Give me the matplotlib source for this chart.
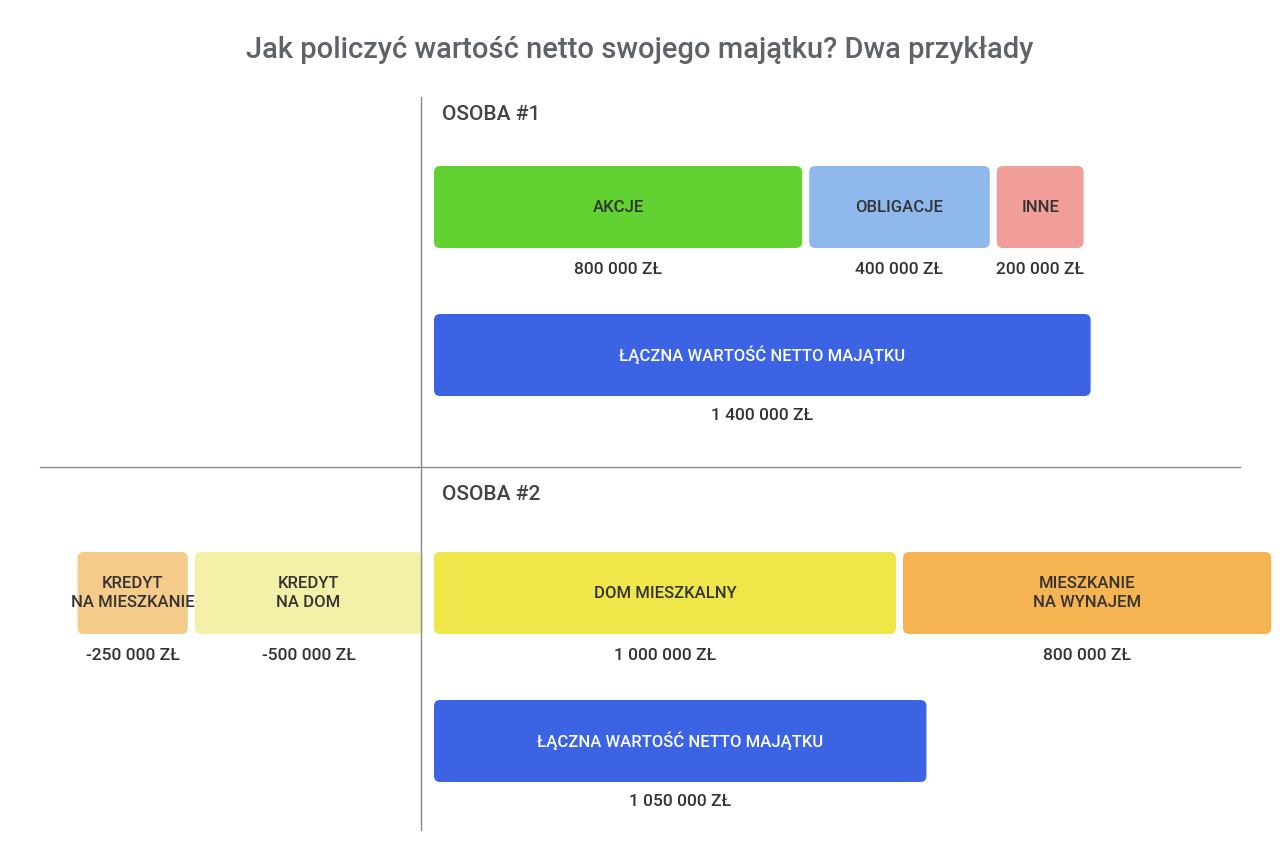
import matplotlib
matplotlib.use("Agg")
import matplotlib.pyplot as plt
from matplotlib.patches import FancyBboxPatch

plt.rcParams['font.family'] = ['Roboto', 'DejaVu Sans']

title = "Jak policzyć wartość netto swojego majątku? Dwa przykłady"
p1_labels = ["AKCJE", "OBLIGACJE", "INNE"]
p1_values = [800, 400, 200]          # tys. zł
p1_colors = ["#62d232", "#8fb8ec", "#f19e9b"]
p1_total = 1400
p2_pos_labels = ["DOM MIESZKALNY", "MIESZKANIE\nNA WYNAJEM"]
p2_pos_values = [1000, 800]
p2_pos_colors = ["#efe64a", "#f6b352"]
p2_neg_labels = ["KREDYT\nNA DOM", "KREDYT\nNA MIESZKANIE"]
p2_neg_values = [-500, -250]
p2_neg_colors = ["#f3f1a8", "#f5cb8a"]
p2_total = 1050
total_label = "ŁĄCZNA WARTOŚĆ NETTO MAJĄTKU"
total_color = "#3b63e4"

def fmt(v):
    s = f"{abs(v)*1000:,}".replace(",", " ")
    return ("-" if v < 0 else "") + s + " ZŁ"

W, H = 1280, 867
fig = plt.figure(figsize=(12.8, 8.67), dpi=100)
ax = fig.add_axes([0, 0, 1, 1])
S = 0.469  # px per thousand
x0 = 434
ax.set_xlim(-x0 / S, (W - x0) / S)
ax.set_ylim(H, 0)
ax.axis('off')
asp = S  # y per x unit ratio
GAP = 15
TXT = "#333333"

def box(left, width, top, h, color, label, tcolor=TXT):
    p = FancyBboxPatch((left, top), width, h,
                       boxstyle="round,pad=0,rounding_size=13",
                       mutation_aspect=asp, fc=color, ec='none')
    ax.add_patch(p)
    ax.text(left + width / 2, top + h / 2, label, ha='center', va='center',
            fontsize=12, color=tcolor, fontweight='medium', linespacing=1.4)

def row(labels, values, colors, top, h=82, ly=None):
    left = 0
    for lab, v, c in zip(labels, values, colors):
        w = v - GAP
        box(left, w, top, h, c, lab)
        ax.text(left + w / 2, top + h + 22, fmt(v), ha='center', va='center',
                fontsize=12.5, color=TXT, fontweight='medium')
        left += v

fig.text(0.5, 1 - 50 / H, title, ha='center', va='center', fontsize=21,
         color="#5f6368", fontweight='medium')

# dividers
ax.plot([-13 / S] * 2, [97, 830], color="#888888", lw=1)
ax.plot([(40 - x0) / S, (1240 - x0) / S], [467, 467], color="#888888", lw=1)

ax.text(8 / S, 115, "OSOBA #1", ha='left', va='center', fontsize=15, color="#444444", fontweight='medium')
ax.text(8 / S, 494, "OSOBA #2", ha='left', va='center', fontsize=15, color="#444444", fontweight='medium')

row(p1_labels, p1_values, p1_colors, 166)
box(0, p1_total, 314, 82, total_color, total_label, "white")
ax.text(p1_total / 2, 415, fmt(p1_total), ha='center', va='center', fontsize=12.5, color=TXT, fontweight='medium')

row(p2_pos_labels, p2_pos_values, p2_pos_colors, 552)
# negatives drawn leftwards from the divider
right = -25
for lab, v, c in zip(p2_neg_labels, p2_neg_values, p2_neg_colors):
    w = -v - GAP
    box(right - w, w, 552, 82, c, lab)
    ax.text(right - w / 2, 656, fmt(v), ha='center', va='center', fontsize=12.5, color=TXT, fontweight='medium')
    right += v
box(0, p2_total, 700, 82, total_color, total_label, "white")
ax.text(p2_total / 2, 801, fmt(p2_total), ha='center', va='center', fontsize=12.5, color=TXT, fontweight='medium')

fig.savefig("out.png", dpi=100, facecolor="white")
